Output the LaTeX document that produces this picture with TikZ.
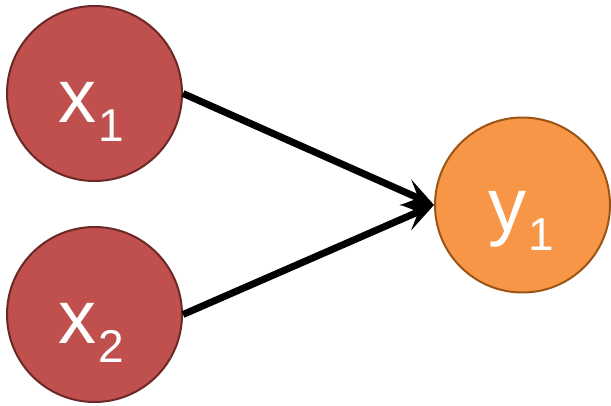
\documentclass[tikz,border=0pt]{standalone}
\usepackage{fontspec}
\setmainfont{Liberation Sans}
\usetikzlibrary{arrows.meta}
\definecolor{redfill}{HTML}{C0504D}
\definecolor{redline}{HTML}{6B2826}
\definecolor{orfill}{HTML}{F79646}
\definecolor{orline}{HTML}{9C5414}
\tikzset{
  neuron/.style={circle, minimum size=175pt, inner sep=0pt, line width=2pt},
  inp/.style={neuron, fill=redfill, draw=redline},
  outp/.style={neuron, fill=orfill, draw=orline},
  lbl/.style={text=white, inner sep=0pt, anchor=base},
  conn/.style={line width=7pt, -{Stealth[length=31pt, width=28pt, inset=14pt]}}
}
\newcommand{\bigtxt}[2]{\fontsize{76}{76}\selectfont #1\kern2pt\raisebox{-19pt}{\fontsize{46}{46}\selectfont #2}}
\begin{document}
\begin{tikzpicture}[x=1pt, y=-1pt]
\useasboundingbox (0,0) rectangle (611,405);
\node[inp] (x1) at (94.5,93.5) {};
\node[inp] (x2) at (94.5,314.5) {};
\node[outp] (y1) at (522.5,205) {};
\node[lbl] (t1) at ([xshift=-3pt, yshift=-28.5pt]x1.center) {\bigtxt{x}{1}};
\node[lbl] (t2) at ([xshift=-3pt, yshift=-28.5pt]x2.center) {\bigtxt{x}{2}};
\node[lbl] (t3) at ([xshift=-1.5pt, yshift=-26pt]y1.center) {\bigtxt{y}{1}};
\draw[conn] (x1.east) -- (y1.west);
\draw[conn] (x2.east) -- (y1.west);
\end{tikzpicture}
\end{document}
